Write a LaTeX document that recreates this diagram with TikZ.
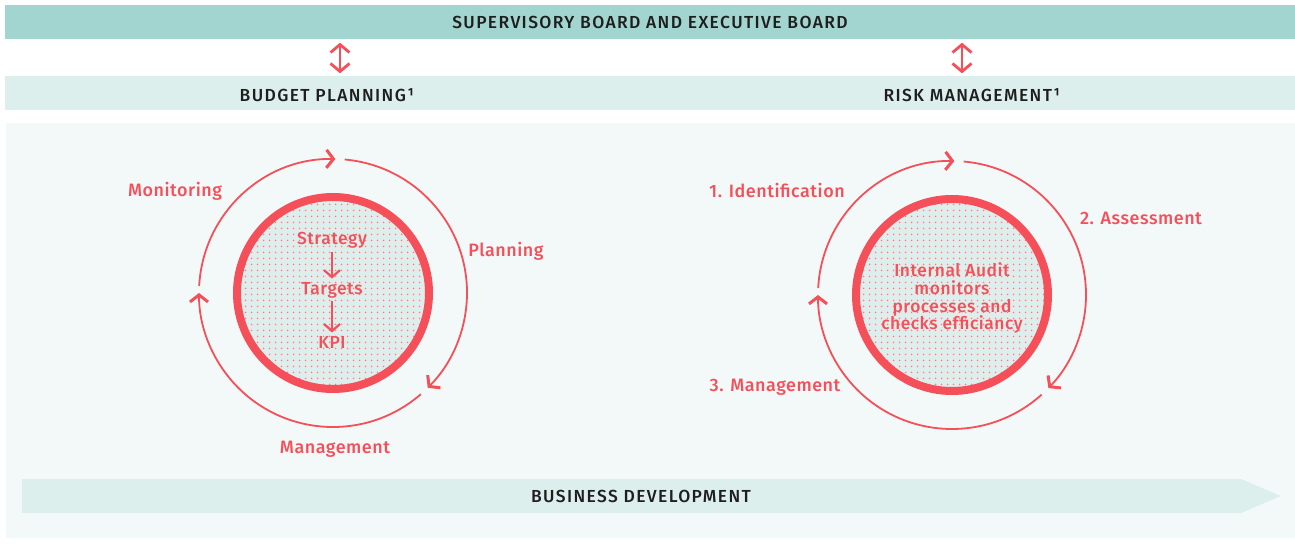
\documentclass[tikz,border=0pt]{standalone}
\usepackage{fontspec}
\setmainfont{Fira Sans}[UprightFont={* Medium}]
\newfontfamily\bandfont{Fira Sans}[UprightFont={* Medium}, LetterSpace=8]
\newfontfamily\labfont{Fira Sans}[UprightFont={* Medium}, LetterSpace=3]
\usetikzlibrary{arrows.meta, patterns.meta}
\definecolor{boardteal}{RGB}{163,213,208}
\definecolor{lightteal}{RGB}{221,239,236}
\definecolor{paleteal}{RGB}{243,249,249}
\definecolor{coral}{RGB}{245,80,90}
\definecolor{inkdark}{RGB}{30,30,30}
\tikzset{
  band/.style={fill=#1, minimum width=1289bp, minimum height=34bp, inner sep=0pt,
    text=inkdark, font=\bandfont\fontsize{17.5}{20}\selectfont},
  bandtext/.style={text=inkdark, font=\bandfont\fontsize{17.5}{20}\selectfont},
  hub/.style={circle, draw=coral, line width=8bp, minimum size=192bp, inner sep=0pt,
    preaction={fill=lightteal},
    pattern={Dots[distance=6bp, radius=1bp]}, pattern color=coral!75},
  cyc/.style={draw=coral, line width=1.8bp,
    -{Straight Barb[length=7bp, width=18bp, line width=3bp]}},
  dblarrow/.style={draw=coral, line width=2.8bp,
    {Straight Barb[length=8bp, width=19bp]}-{Straight Barb[length=8bp, width=19bp]}},
  downarr/.style={draw=coral, line width=2.2bp,
    -{Straight Barb[length=7bp, width=16bp]}},
  lab/.style={text=coral, font=\labfont\fontsize{18}{21}\selectfont},
  core/.style={text=coral, align=center, font=\labfont\fontsize{17.5}{18}\selectfont},
}
\begin{document}
\begin{tikzpicture}[x=1bp, y=-1bp]
  \useasboundingbox (0,0) rectangle (1295,546);
  % background bands
  \node[band=boardteal] (board) at (650,22.5) {SUPERVISORY BOARD AND EXECUTIVE BOARD};
  \node[band=lightteal] (plans) at (650,93.5) {};
  \node[bandtext] (bplan) at (327,95) {BUDGET PLANNING¹};
  \node[bandtext] (rman) at (972,95) {RISK MANAGEMENT¹};
  \fill[paleteal] (6,123) rectangle (1295,538);
  \coordinate (bpx) at (340,0);
  \coordinate (rmx) at (962,0);
  \draw[dblarrow] ([yshift=-3bp]board.south -| bpx) -- ([yshift=3bp]plans.north -| bpx);
  \draw[dblarrow] ([yshift=-3bp]board.south -| rmx) -- ([yshift=3bp]plans.north -| rmx);

  % business development arrow
  \fill[lightteal] (22,479) -- (1241,479) -- (1281,496) -- (1241,513) -- (22,513) -- cycle;
  \node[bandtext] (busdev) at (641,496) {BUSINESS DEVELOPMENT};

  % budget planning cycle
  \node[hub] (bphub) at (333,293) {};
  \draw[cyc] ([shift={(183:134)}]bphub.center) arc[start angle=183, end angle=271, radius=134];
  \draw[cyc] ([shift={(275:134)}]bphub.center) arc[start angle=275, end angle=405, radius=134];
  \draw[cyc] ([shift={(49:134)}]bphub.center) arc[start angle=49, end angle=180, radius=134];
  \node[core] (strat) at (332,240) {Strategy};
  \node[core] (targ) at (332,290) {Targets};
  \node[core] (kpi) at (332,342) {KPI};
  \draw[downarr] (strat) -- (targ);
  \draw[downarr] (targ) -- (kpi);
  \node[lab] (monit) at (175,191) {Monitoring};
  \node[lab] (plan) at (506,251) {Planning};
  \node[lab] (bpmgmt) at (335,449) {Management};

  % risk management cycle
  \node[hub] (rmhub) at (952,295) {};
  \draw[cyc] ([shift={(183:134)}]rmhub.center) arc[start angle=183, end angle=271, radius=134];
  \draw[cyc] ([shift={(275:134)}]rmhub.center) arc[start angle=275, end angle=404, radius=134];
  \draw[cyc] ([shift={(48:134)}]rmhub.center) arc[start angle=48, end angle=180, radius=134];
  \node[core] (audit) at (952,298) {Internal Audit\\monitors\\processes and\\checks efficiancy};
  \node[lab] (ident) at (777,190) {1. Identification};
  \node[lab] (assess) at (1141,218) {2. Assessment};
  \node[lab] (rmmgmt) at (775,387) {3. Management};
\end{tikzpicture}
\end{document}
